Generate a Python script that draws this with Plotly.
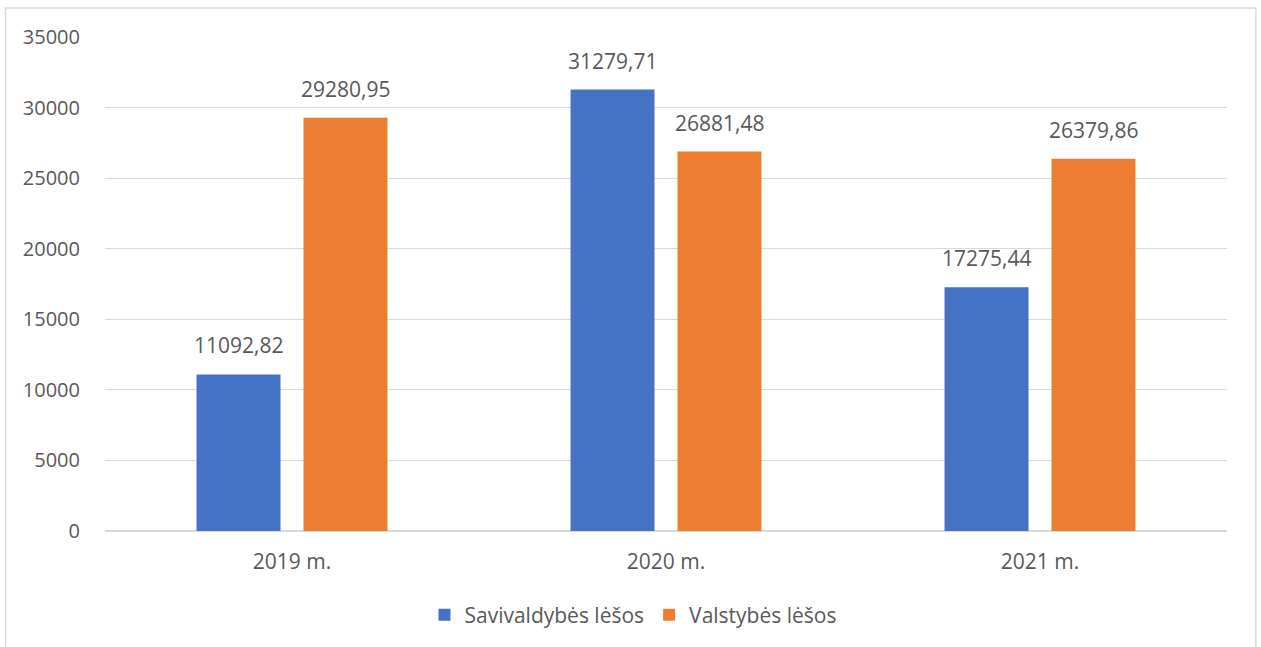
import plotly.graph_objects as go

categories = ["2019 m.", "2020 m.", "2021 m."]
savivaldybes = [11092.82, 31279.71, 17275.44]
valstybes = [29280.95, 26881.48, 26379.86]
series_names = ["Savivaldybės lėšos", "Valstybės lėšos"]
y_ticks = [0, 5000, 10000, 15000, 20000, 25000, 30000, 35000]

BLUE = "#4472C4"
ORANGE = "#ED7D31"
TXT = "#595959"
FONT = "Open Sans"
FS = 21
FS_Y = 20


def fmt(v):
    return f"{v:.2f}".replace(".", ",")


fig = go.Figure()
fig.add_trace(go.Bar(x=categories, y=savivaldybes, name=series_names[0],
                     marker=dict(color=BLUE, line=dict(width=0))))
fig.add_trace(go.Bar(x=categories, y=valstybes, name=series_names[1],
                     marker=dict(color=ORANGE, line=dict(width=0))))

annotations = []
for vals, shift in ((savivaldybes, -53.5), (valstybes, 53.5)):
    for c, v in zip(categories, vals):
        annotations.append(dict(x=c, y=v, xref="x", yref="y", text=fmt(v),
                                showarrow=False, xshift=shift, yshift=29,
                                yanchor="middle", xanchor="center",
                                font=dict(family=FONT, size=FS, color=TXT)))

fig.update_layout(
    width=1261, height=647,
    margin=dict(l=105, r=34, t=37, b=115),
    paper_bgcolor="white", plot_bgcolor="white",
    barmode="group", bargap=0.428, bargroupgap=0.215,
    font=dict(family=FONT, size=FS, color=TXT),
    showlegend=True,
    legend=dict(orientation="h", x=0.471, xanchor="center", y=-0.168, yanchor="middle",
                font=dict(family=FONT, size=FS, color=TXT), itemwidth=30,
                traceorder="normal"),
    annotations=annotations,
    shapes=[dict(type="rect", xref="paper", yref="paper",
                 x0=-0.0886, x1=1.0258, y0=-0.3, y1=1.0586,
                 line=dict(color="#D9D9D9", width=1.5), fillcolor="rgba(0,0,0,0)",
                 layer="below")],
)
fig.update_xaxes(showline=False, showgrid=False, ticks="", ticklabelstandoff=16,
                 tickfont=dict(family=FONT, size=FS, color=TXT))
fig.update_yaxes(range=[0, 35000], tickvals=y_ticks, showgrid=True, gridcolor="#D9D9D9",
                 gridwidth=1.3, zeroline=True, zerolinecolor="#D9D9D9", zerolinewidth=1.5,
                 showline=False, ticks="", ticklabelstandoff=24, tickformat="d",
                 tickfont=dict(family=FONT, size=FS_Y, color=TXT))

fig.write_html("out.html", config={"displayModeBar": False},
               post_script="document.body.style.margin='0';document.body.style.overflow='hidden';")
